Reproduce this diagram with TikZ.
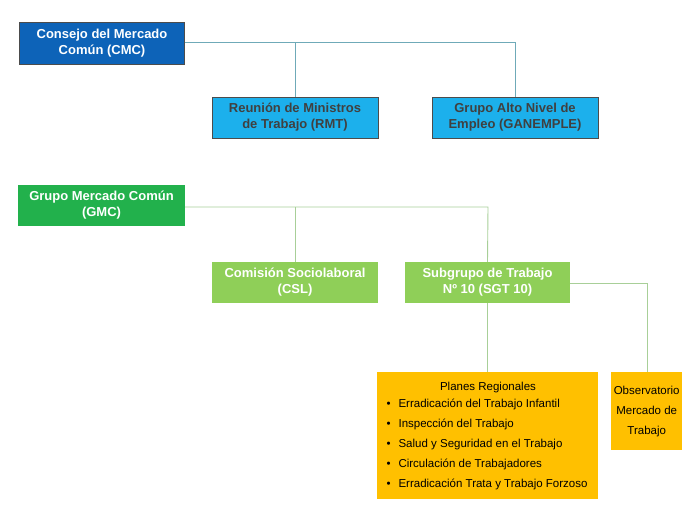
\documentclass[tikz,border=0pt]{standalone}
\usepackage{fontspec}
\setmainfont{Liberation Sans}
\definecolor{dblue}{HTML}{0D63B8}
\definecolor{lblue}{HTML}{1CB0EC}
\definecolor{dgreen}{HTML}{22B14C}
\definecolor{lgreen}{HTML}{8FCF58}
\definecolor{gold}{HTML}{FFC000}
\definecolor{bline}{HTML}{6FAAB8}
\definecolor{gline}{HTML}{A8CF98}
\begin{document}
\begin{tikzpicture}[x=1pt,y=-1pt,
  box/.style={inner sep=0pt,align=center,font=\fontsize{13}{16}\selectfont\bfseries},
  bconn/.style={draw=bline,line width=0.9pt},
  gconn/.style={draw=gline,line width=0.9pt}]
\useasboundingbox (0,0) rectangle (700,525);
\node[box,fill=dblue,draw=black!70,text=white,minimum width=165,minimum height=42] (cmc) at (102,43.5) {Consejo del Mercado\\Común (CMC)};
\node[box,fill=lblue,draw=black!70,text=black!75,minimum width=166,minimum height=41] (rmt) at (295,117.5) {Reunión de Ministros\\de Trabajo (RMT)};
\node[box,fill=lblue,draw=black!70,text=black!75,minimum width=166,minimum height=41] (gan) at (515,117.5) {Grupo Alto Nivel de\\Empleo (GANEMPLE)};
\node[box,fill=dgreen,text=white,minimum width=167,minimum height=41] (gmc) at (101.5,205.5) {Grupo Mercado Común\\(GMC)};
\node[box,fill=lgreen,text=white,minimum width=166,minimum height=41] (csl) at (295,282.5) {Comisión Sociolaboral\\(CSL)};
\node[box,fill=lgreen,text=white,minimum width=165,minimum height=41] (sgt) at (487.5,282.5) {Subgrupo de Trabajo\\Nº 10 (SGT 10)};
\node[fill=gold,inner sep=0pt,minimum width=221,minimum height=127,anchor=north west] (pl) at (377,372) {};
\node[font=\fontsize{11.5}{14}\selectfont,anchor=north] (plt) at (488,379) {Planes Regionales};
\node[font=\fontsize{11.5}{20}\selectfont,align=left,anchor=north west] (pli) at (383,395) {%
•\hspace{8pt}Erradicación del Trabajo Infantil\\
•\hspace{8pt}Inspección del Trabajo\\
•\hspace{8pt}Salud y Seguridad en el Trabajo\\
•\hspace{8pt}Circulación de Trabajadores\\
•\hspace{8pt}Erradicación Trata y Trabajo Forzoso};
\node[fill=gold,inner sep=0pt,minimum width=71,minimum height=78,align=center,font=\fontsize{11.5}{20}\selectfont,anchor=north west] (obs) at (611,372) {Observatorio\\Mercado de\\Trabajo};
\coordinate (c1) at (515,42);
\coordinate (c2) at (295,42);
\draw[bconn] (cmc.east|-c1) -- (c1) -- (gan.north);
\draw[bconn] (c2) -- (rmt.north);
\coordinate (g1) at (488,207);
\coordinate (g2) at (295,207);
\draw[gconn] (gmc.east|-g1) -- (g1) -- (sgt.north);
\draw[gconn] (g2) -- (csl.north);
\draw[gconn] (sgt.south) -- (pl.north-|sgt.south);
\coordinate (o1) at (647,283);
\draw[gconn] (sgt.east|-o1) -- (o1) -- (obs.north-|o1);
\end{tikzpicture}
\end{document}
